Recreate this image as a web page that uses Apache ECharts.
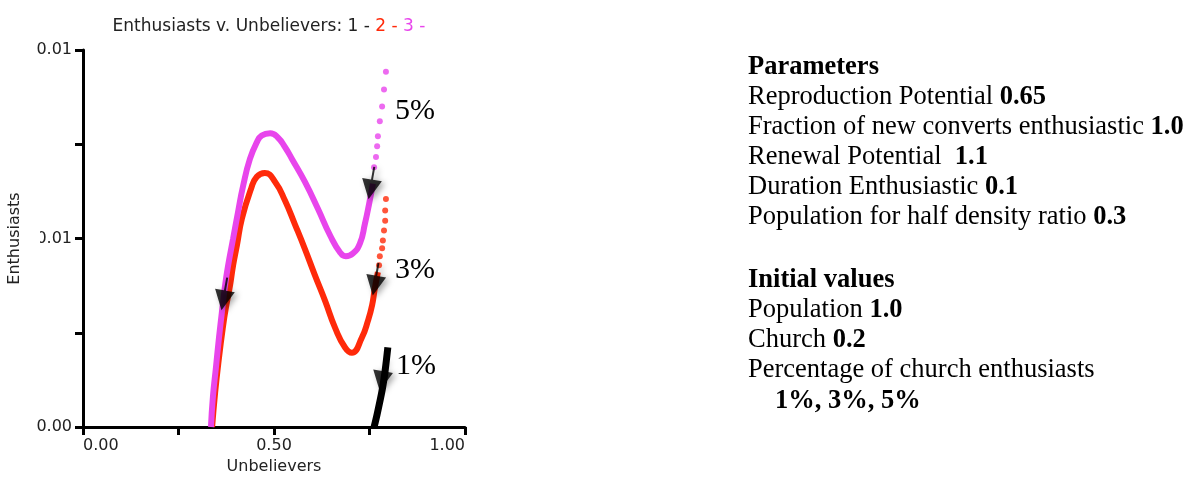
<!DOCTYPE html>
<html>
<head>
<meta charset="utf-8">
<script src="https://cdn.jsdelivr.net/npm/echarts@6/dist/echarts.min.js"></script>
<style>
html,body{margin:0;padding:0;background:#fff;}
#chart{width:1194px;height:480px;}
</style>
</head>
<body>
<div id="chart"></div>
<script>
// ---- data (Unbelievers, Enthusiasts) ----
const magentaDots = [[0.793,0.00942],[0.788,0.00895],[0.783,0.00850],[0.777,0.00811],[0.772,0.00771],[0.770,0.00745],[0.767,0.00716],[0.762,0.00689]];
const magentaLine = [[0.759,0.00645],[0.749,0.00592],[0.738,0.00539],[0.725,0.00487],[0.707,0.00461],[0.688,0.00453],[0.673,0.00463],[0.647,0.00508],[0.615,0.00579],[0.581,0.00650],[0.547,0.00711],[0.529,0.00742],[0.510,0.00768],[0.490,0.00779],[0.468,0.00773],[0.455,0.00755],[0.437,0.00711],[0.419,0.00639],[0.406,0.00571],[0.393,0.00500],[0.380,0.00429],[0.372,0.00376],[0.364,0.00308],[0.356,0.00237],[0.348,0.00158],[0.340,0.00079],[0.335,0.00000]];
const redDots = [[0.793,0.00605],[0.791,0.00574],[0.791,0.00547],[0.788,0.00521],[0.785,0.00495],[0.783,0.00474],[0.777,0.00453],[0.775,0.00429]];
const redLine = [[0.772,0.00411],[0.764,0.00368],[0.757,0.00324],[0.746,0.00282],[0.730,0.00237],[0.704,0.00197],[0.686,0.00211],[0.660,0.00263],[0.634,0.00334],[0.607,0.00403],[0.581,0.00472],[0.555,0.00537],[0.529,0.00600],[0.503,0.00650],[0.476,0.00674],[0.455,0.00664],[0.440,0.00632],[0.416,0.00553],[0.403,0.00482],[0.393,0.00429],[0.385,0.00376],[0.374,0.00316],[0.366,0.00263],[0.356,0.00184],[0.346,0.00092],[0.338,0.00000]];
const blackLine = [[0.798,0.00211],[0.791,0.00150],[0.783,0.00097],[0.770,0.00034],[0.762,0.00000]];
const arrowPoints = [[0.370,0.00353],[0.755,0.00647],[0.766,0.00392],[0.784,0.00139]];
const pctLabels = [['5%',0.869,0.00837],['3%',0.869,0.00416],['1%',0.872,0.00161]];
const xTickLabels = {0:'0.00',0.5:'0.50',1:'1.00'};
const yTickLabels = {0:'0.00',0.005:'0.01',0.01:'0.01'};
const titleParts = [['Enthusiasts v. Unbelievers: 1 - ','k'],['2 - ','r'],['3 -','m']];
const paramHeader = 'Parameters';
const paramLines = [['Reproduction Potential ','0.65'],['Fraction of new converts enthusiastic ','1.0'],['Renewal Potential  ','1.1'],['Duration Enthusiastic ','0.1'],['Population for half density ratio ','0.3']];
const initHeader = 'Initial values';
const initLines = [['Population ','1.0'],['Church ','0.2'],['Percentage of church enthusiasts','']];
const initPercents = '1%, 3%, 5%';

const MAG = '#E845EC', RED = '#FF2A0A', BLK = '#000000';
const axisFont = 'DejaVu Sans';
const serif = 'Liberation Serif';

const chart = echarts.init(document.getElementById('chart'));

function fmtKey(v){ return Math.round(v*10000)/10000; }

const arrowPath = 'path://M9,0 L11,0 L11,13 L20,13 L10,33 L0,13 L9,13 Z';

const FS = 26.5;
const richSerif = {n:{fontFamily:serif,fontSize:FS,color:'#000'}, b:{fontFamily:serif,fontSize:FS,fontWeight:'bold',color:'#000'}};
// right-hand text
const textEls = [];
textEls.push({type:'text', left:748, top:54, style:{text:'{b|'+paramHeader+'}', rich:richSerif}});
paramLines.forEach((l,i)=>{
  textEls.push({type:'text', left:748, top:84+30*i, style:{text:'{n|'+l[0]+'}{b|'+l[1]+'}', rich:richSerif}});
});
textEls.push({type:'text', left:748, top:267, style:{text:'{b|'+initHeader+'}', rich:richSerif}});
initLines.forEach((l,i)=>{
  textEls.push({type:'text', left:748, top:297+30*i, style:{text:'{n|'+l[0]+'}'+(l[1]?'{b|'+l[1]+'}':''), rich:richSerif}});
});
textEls.push({type:'text', left:775, top:388, style:{text:'{b|'+initPercents+'}', rich:richSerif}});
// white mask partially hiding the middle y label (as in the original)
textEls.push({type:'rect', shape:{x:26,y:228,width:14,height:22}, style:{fill:'#fff'}, z:100});

chart.setOption({
  animation:false,
  backgroundColor:'#fff',
  title:{
    left:264, top:13, textAlign:'center',
    text: titleParts.map(p=>'{'+p[1]+'|'+p[0]+'}').join(''),
    textStyle:{
      fontWeight:'normal',
      rich:{
        k:{fontFamily:axisFont,fontSize:17,fontWeight:'normal',color:'#222'},
        r:{fontFamily:axisFont,fontSize:17,fontWeight:'normal',color:RED},
        m:{fontFamily:axisFont,fontSize:17,fontWeight:'normal',color:MAG}
      }
    }
  },
  grid:{left:83, top:50, width:382, height:380},
  xAxis:{
    type:'value', min:0, max:1, interval:0.25,
    name:'Unbelievers', nameLocation:'middle', nameGap:32,
    nameTextStyle:{fontFamily:axisFont,fontSize:16,color:'#222'},
    axisLine:{lineStyle:{color:'#000',width:3}},
    axisTick:{length:8,lineStyle:{color:'#000',width:3}},
    splitLine:{show:false},
    axisLabel:{margin:11,fontFamily:axisFont,fontSize:16,color:'#222',
      alignMinLabel:'left', alignMaxLabel:'right',
      formatter:v=>xTickLabels[fmtKey(v)]||''}
  },
  yAxis:{
    type:'value', min:0, max:0.01, interval:0.0025,
    name:'Enthusiasts', nameLocation:'middle', nameGap:60, nameRotate:90,
    nameTextStyle:{fontFamily:axisFont,fontSize:16,color:'#222'},
    axisLine:{lineStyle:{color:'#000',width:3}},
    axisTick:{length:8,lineStyle:{color:'#000',width:3}},
    splitLine:{show:false},
    axisLabel:{margin:11,fontFamily:axisFont,fontSize:16,color:'#222',
      formatter:v=>yTickLabels[fmtKey(v)]||''}
  },
  graphic: textEls,
  series:[
    {type:'line', data:blackLine, showSymbol:false, smooth:0.3, lineStyle:{color:BLK,width:7}, z:2},
    {type:'line', data:redLine, showSymbol:false, smooth:0.5, lineStyle:{color:RED,width:6}, z:3},
    {type:'scatter', data:redDots, symbolSize:6, itemStyle:{color:RED}, z:3},
    {type:'line', data:magentaLine, showSymbol:false, smooth:0.5, lineStyle:{color:MAG,width:6}, z:4},
    {type:'scatter', data:magentaDots, symbolSize:6, itemStyle:{color:MAG}, z:4},
    {type:'scatter', data:arrowPoints, symbol:arrowPath, symbolSize:[20,33], symbolRotate:-10,
      itemStyle:{color:'#000', shadowBlur:6, shadowColor:'rgba(0,0,0,0.45)', shadowOffsetX:3, shadowOffsetY:2}, z:10},
    {type:'scatter', data:pctLabels.map(p=>({name:p[0], value:[p[1],p[2]]})), symbolSize:0,
      label:{show:true, position:'inside', formatter:'{b}', fontFamily:serif, fontSize:30, color:'#000', textBorderWidth:0, opacity:1}, z:11}
  ]
});
</script>
</body>
</html>
